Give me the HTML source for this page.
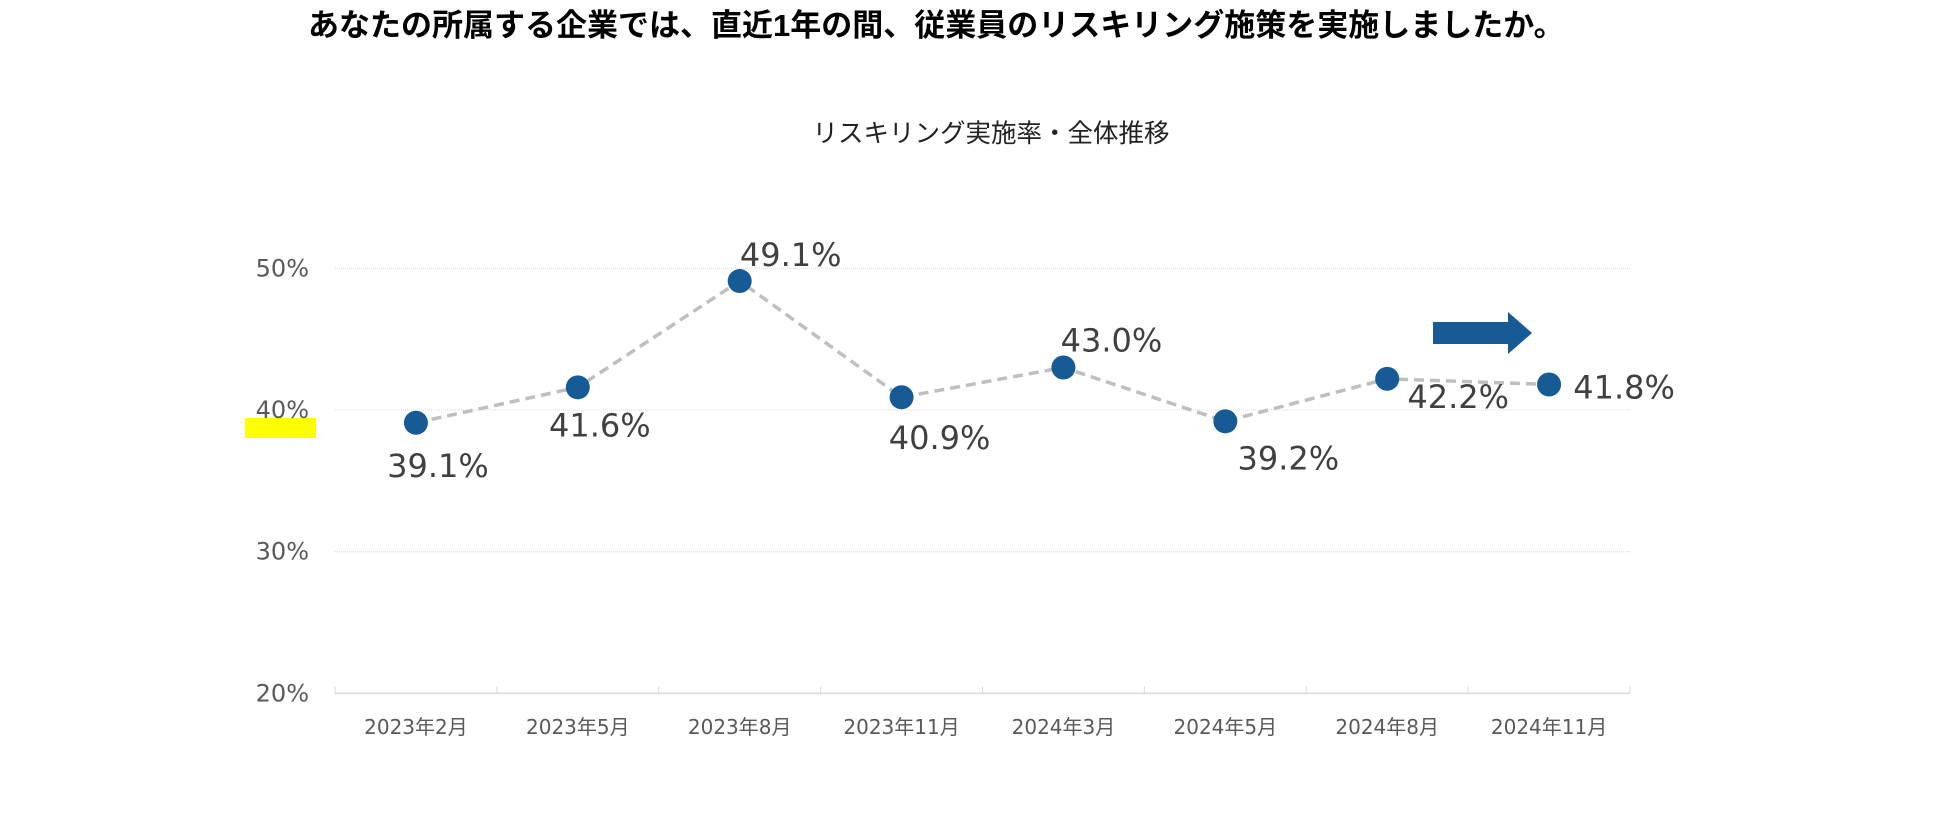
<!DOCTYPE html>
<html><head><meta charset="utf-8"><style>
body{margin:0;background:#fff;}
svg{display:block;font-family:"Liberation Sans","Noto Sans CJK JP",sans-serif;}
.dv{font-family:"DejaVu Sans","Noto Sans CJK JP",sans-serif;}
</style></head><body>
<svg id="c" width="1950" height="813" viewBox="0 0 1950 813">
<text x="308" y="36" font-size="31" font-weight="bold" fill="#000">あなたの所属する企業では、直近1年の間、従業員のリスキリング施策を実施しましたか。</text>
<text x="991" y="142" font-size="25.5" text-anchor="middle" fill="#222">リスキリング実施率・全体推移</text>
<rect x="245" y="418" width="71" height="20" fill="#ffff00"/>
<polygon points="1433,322 1508,322 1508,312 1532,333 1508,354 1508,344 1433,344" fill="#165a96"/>
<g id="grid"></g><g id="axes"></g><g id="series"></g><g id="labels"></g>
</svg>
<script>
const categories=["2023年2月","2023年5月","2023年8月","2023年11月","2024年3月","2024年5月","2024年8月","2024年11月"];
const values=[39.1,41.6,49.1,40.9,43.0,39.2,42.2,41.8];
const yTicks=[20,30,40,50];
const labelDx=[22,22,51,38,48,63,71,75];
const labelDy=[43,38,-26,41,-27,37,18,3];
const NS="http://www.w3.org/2000/svg";
const X0=335,X1=1630,Y0=693.4,PER=14.17;
const bw=(X1-X0)/categories.length;
const x=i=>X0+bw*(i+0.5);
const y=v=>Y0-(v-20)*PER;
function mk(t,a,p){const e=document.createElementNS(NS,t);for(const k in a)e.setAttribute(k,a[k]);p.appendChild(e);return e;}
const grid=document.getElementById('grid'),axes=document.getElementById('axes'),ser=document.getElementById('series'),lab=document.getElementById('labels');
yTicks.forEach(t=>{
 if(t>20){const g=mk('line',{x1:X0,x2:X1,y1:y(t),y2:y(t),stroke:'#d9d9d9','stroke-width':1,'stroke-dasharray':'1 1'},grid);
 
 }
 const l=mk('text',{x:309,y:y(t)+8,'font-size':24,'text-anchor':'end',fill:'#595959','class':'dv'},axes);l.textContent=t+'%';
 
 
});
const ax=mk('line',{x1:X0,x2:X1,y1:Y0,y2:Y0,stroke:'#d9d9d9','stroke-width':1.5},axes);


for(let i=0;i<=categories.length;i++){const tk=mk('line',{x1:X0+bw*i,x2:X0+bw*i,y1:Y0,y2:Y0-7,stroke:'#d9d9d9','stroke-width':1},axes);
 
 }
categories.forEach((c,i)=>{const t=mk('text',{x:x(i),y:734,'font-size':20,'text-anchor':'middle',fill:'#595959','class':'dv'},axes);t.textContent=c;
 
 });
const pl=mk('polyline',{points:values.map((v,i)=>x(i)+','+y(v)).join(' '),fill:'none',stroke:'#bfbfbf','stroke-width':3.5,'stroke-dasharray':'10 6'},ser);


values.forEach((v,i)=>{const c=mk('circle',{cx:x(i),cy:y(v),r:12,fill:'#165a96'},ser);
 
 
 const t=mk('text',{x:x(i)+labelDx[i],y:y(v)+labelDy[i]+11,'font-size':32,'text-anchor':'middle',fill:'#404040','class':'dv'},lab);t.textContent=v.toFixed(1)+'%';
 
 });
</script>
</body></html>
